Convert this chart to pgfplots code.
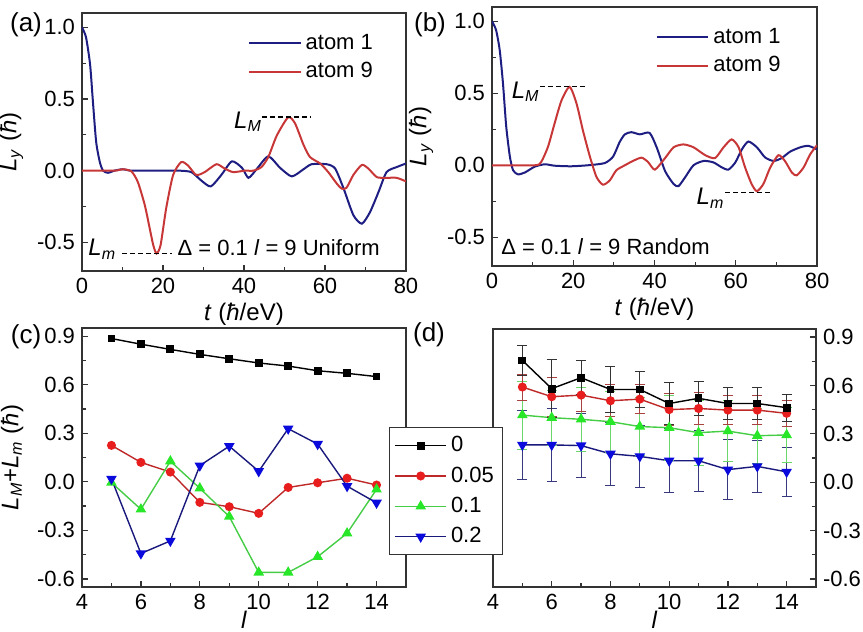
\documentclass[border=0pt]{standalone}
\usepackage{pgfplots}
\pgfplotsset{compat=1.18}
\usepackage{fontspec}
\setmainfont{Liberation Sans}
\definecolor{navyl}{RGB}{30,30,130}
\definecolor{redl}{RGB}{200,55,55}
\definecolor{redm}{RGB}{232,30,30}
\definecolor{redc}{RGB}{190,40,40}
\definecolor{greenm}{RGB}{40,230,40}
\definecolor{greenl}{RGB}{70,205,70}
\definecolor{bluem}{RGB}{10,10,220}
\definecolor{bluel}{RGB}{25,25,125}
\newcommand{\fs}[1]{\fontsize{#1}{#1}\selectfont}
\newcommand{\hb}{\textit{ħ}}
\pgfplotsset{
  base/.style={
    scale only axis, axis line style={line width=0.8pt, black!80},
    tick align=inside, tick style={black!80, line width=0.6pt},
    major tick length=3pt, minor tick length=2pt,
    ticklabel style={font=\fs{11}},
    /pgf/number format/assume math mode=true,
    label style={font=\fs{12}},
    xtick pos=bottom, ytick pos=left,
  },
  tplot/.style={base, xmin=0, xmax=80, ymin=-0.7, ymax=1.1,
    xtick={0,20,40,60,80}, minor x tick num=1,
    ytick={-0.5,0,0.5,1}, minor y tick num=1,
    yticklabel style={/pgf/number format/.cd, fixed, fixed zerofill, precision=1},
    xlabel={\textit{t} (\hb/eV)}, ylabel={\textit{L}\textsubscript{\textit{y}} (\hb)},
    xlabel style={yshift=2pt},
    legend style={draw=none, fill=none, font=\fs{11}, anchor=north east, row sep=1pt},
    legend cell align=left,
    legend image code/.code={\draw[#1] (0cm,0cm) -- (0.9cm,0cm);},
  },
  lplot/.style={base, xmin=4, xmax=15, ymin=-0.65, ymax=0.95,
    xtick={4,6,8,10,12,14}, minor x tick num=1,
    ytick={-0.6,-0.3,0,0.3,0.6,0.9}, minor y tick num=1,
    yticklabel style={/pgf/number format/.cd, fixed, fixed zerofill, precision=1},
    xlabel={\textit{l}}, xlabel style={yshift=3pt, inner sep=0pt},
  },
}
\begin{document}
\begin{tikzpicture}
\useasboundingbox (0,0) rectangle (431.5pt,316pt);
% (a)
\begin{axis}[tplot, at={(41pt,180.5pt)}, anchor=south west, width=162pt, height=129pt,
  legend style={at={(0.93,0.95)}}]
\addplot[navyl, line width=1pt, smooth, tension=0.4] coordinates {
(0,1.0) (1,0.93) (2,0.74) (2.7,0.48) (3.5,0.2) (4.4,0.06) (5.2,0.0) (6.4,-0.015) (8,0) (10,0.01) (12,0) (15,0) (20,0) (24,0) (27,-0.01) (29.5,-0.07) (31.8,-0.11) (34.4,-0.03) (37,0.065) (39.5,0.02) (41.1,-0.05) (43.1,0.01) (46,0.10) (48.9,0.02) (51.8,-0.04) (54.7,0.01) (56.7,0.045) (60.4,0.045) (62.5,0.015) (64.6,-0.125) (67,-0.31) (69.1,-0.37) (71.1,-0.29) (73.2,-0.15) (75.2,-0.01) (77.7,0.025) (80,0.05)};
\addlegendentry{atom 1}
\addplot[redl, line width=1pt, smooth, tension=0.4] coordinates {
(0,0) (8,0) (10,0.01) (12.2,-0.005) (13.8,-0.08) (15.5,-0.24) (16.7,-0.40) (17.6,-0.52) (18.4,-0.578) (19.4,-0.52) (20.8,-0.26) (22.5,-0.03) (24.5,0.06) (26.2,0.035) (28.2,-0.03) (30.3,-0.01) (33.2,0.045) (35.2,0.015) (37.3,-0.01) (40.2,0) (42.3,0) (44.3,0.025) (46,0.095) (48.1,0.245) (50.9,0.372) (52.6,0.33) (54.7,0.18) (56.3,0.095) (58.8,0.05) (60.8,-0.01) (62.9,-0.09) (64.1,-0.125) (65.3,-0.12) (67,-0.03) (69.1,0.04) (70.7,0.015) (72.8,-0.045) (75.2,-0.05) (77.7,-0.05) (80,-0.075)};
\addlegendentry{atom 9}
\draw[dashed, dash pattern=on 2.5pt off 1.5pt, line width=0.6pt] (axis cs:44.4,0.375) -- (axis cs:56.4,0.375);
\node[anchor=east, font=\fs{12}, inner sep=1pt] at (axis cs:45,0.34) {\textit{L}\textsubscript{\textit{M}}};
\draw[dashed, dash pattern=on 2.5pt off 1.5pt, line width=0.6pt] (axis cs:9.9,-0.58) -- (axis cs:22.2,-0.58);
\node[font=\fs{12}, inner sep=1pt] at (axis cs:5,-0.55) {\textit{L}\textsubscript{\textit{m}}};
\node[anchor=west, font=\fs{11}, inner sep=0pt] at (axis cs:23.5,-0.535) {Δ = 0.1 \textit{l} = 9 Uniform};
\end{axis}
% (b)
\begin{axis}[tplot, at={(246pt,183pt)}, anchor=south west, width=162.5pt, height=129.5pt,
  legend style={at={(0.92,0.95)}}]
\addplot[navyl, line width=1pt, smooth, tension=0.4] coordinates {
(0,1.0) (1,0.94) (1.9,0.80) (2.7,0.57) (3.5,0.27) (4.4,0.06) (5.2,-0.035) (6.4,-0.063) (8.1,-0.05) (10.5,-0.01) (13,0.007) (15.4,-0.003) (19.5,-0.007) (23.6,0) (27.7,0.015) (29.8,0.06) (31.4,0.16) (32.7,0.215) (34.3,0.23) (36.4,0.215) (38.8,0.225) (40.6,0.12) (42.6,-0.04) (44.7,-0.13) (45.9,-0.145) (47.5,-0.085) (49.6,0) (52.1,0.03) (54.5,0.02) (56.6,-0.015) (58.2,-0.03) (59.9,0.02) (61.5,0.11) (63.1,0.165) (65.2,0.125) (67.2,0.055) (69.3,0.03) (71.3,0.05) (73.4,0.095) (75.9,0.125) (77.9,0.135) (80,0.11)};
\addlegendentry{atom 1}
\addplot[redl, line width=1pt, smooth, tension=0.4] coordinates {
(0,0) (10.5,0) (12.1,0.023) (13.8,0.13) (15.4,0.29) (17.1,0.45) (19.1,0.545) (20.8,0.43) (22.4,0.24) (24.1,0.06) (25.7,-0.08) (27.3,-0.135) (29,-0.105) (30.6,-0.035) (32.7,0) (34.7,0.03) (36.8,0.053) (38.4,0.023) (40.1,-0.03) (42.6,0.05) (44.7,0.125) (47.1,0.145) (49.6,0.125) (52.5,0.07) (54.9,0.05) (57,0.125) (59,0.18) (60.7,0.125) (62.3,-0.015) (63.9,-0.13) (65.2,-0.18) (66.8,-0.13) (68.5,-0.015) (70.5,0.07) (72.1,0.03) (73.8,-0.05) (75,-0.07) (76.7,-0.015) (78.3,0.075) (80,0.14)};
\addlegendentry{atom 9}
\draw[dashed, dash pattern=on 2.5pt off 1.5pt, line width=0.6pt] (axis cs:11.8,0.545) -- (axis cs:23.6,0.545);
\node[anchor=east, font=\fs{12}, inner sep=1pt] at (axis cs:12.3,0.51) {\textit{L}\textsubscript{\textit{M}}};
\draw[dashed, dash pattern=on 2.5pt off 1.5pt, line width=0.6pt] (axis cs:57.4,-0.187) -- (axis cs:69.2,-0.187);
\node[anchor=east, font=\fs{12}, inner sep=1pt] at (axis cs:57.8,-0.23) {\textit{L}\textsubscript{\textit{m}}};
\node[anchor=west, font=\fs{11}, inner sep=0pt] at (axis cs:2.2,-0.565) {Δ = 0.1 \textit{l} = 9 Random};
\end{axis}
% (c)
\begin{axis}[lplot, at={(41pt,22.5pt)}, anchor=south west, width=162pt, height=129.5pt,
  ylabel={\textit{L}\textsubscript{\textit{M}}+\textit{L}\textsubscript{\textit{m}} (\hb)}]
\addplot[black, line width=0.7pt, mark=square*, mark size=1.6pt] coordinates {
(5,0.885) (6,0.85) (7,0.818) (8,0.787) (9,0.76) (10,0.734) (11,0.715) (12,0.686) (13,0.67) (14,0.65)};
\addplot[redc, line width=0.7pt, mark=*, mark size=1.9pt, mark options={fill=redm, draw=redm}] coordinates {
(5,0.225) (6,0.12) (7,0.06) (8,-0.127) (9,-0.154) (10,-0.195) (11,-0.035) (12,-0.006) (13,0.022) (14,-0.02)};
\addplot[greenl, line width=0.7pt, mark=triangle*, mark size=2.4pt, mark options={fill=greenm, draw=greenm}] coordinates {
(5,-0.005) (6,-0.17) (7,0.127) (8,-0.04) (9,-0.215) (10,-0.56) (11,-0.56) (12,-0.463) (13,-0.318) (14,-0.047)};
\addplot[bluel, line width=0.7pt, mark=triangle*, mark size=2.4pt, mark options={rotate=180, fill=bluem, draw=bluem}] coordinates {
(5,0.018) (6,-0.443) (7,-0.365) (8,0.10) (9,0.22) (10,0.065) (11,0.328) (12,0.233) (13,-0.027) (14,-0.13)};
\end{axis}
% (d)
\begin{axis}[lplot, at={(246.5pt,22.5pt)}, anchor=south west, width=161.5pt, height=129pt,
  ytick pos=right, yticklabel pos=right,
  legend style={at={(axis description cs:-0.322,0.62)}, anchor=north west, draw=black!80, fill=white, font=\fs{11}, row sep=2pt, inner sep=2.5pt},
  legend cell align=left, legend reversed,
  legend image code/.code={\draw[mark repeat=2, mark phase=2, #1] plot coordinates {(0cm,0cm) (0.45cm,0cm) (0.9cm,0cm)};}]
\addplot[bluel, line width=0.7pt, mark=triangle*, mark size=2.4pt, mark options={rotate=180, fill=bluem, draw=bluem},
  error bars/.cd, y dir=both, y explicit, error bar style={color=bluel!70!gray, line width=0.5pt},
  error mark options={rotate=90, mark size=2.5pt, color=bluel!70!gray}] coordinates {
(5,0.231) +- (0,0.215) (6,0.231) +- (0,0.229) (7,0.227) +- (0,0.2) (8,0.176) +- (0,0.196) (9,0.16) +- (0,0.19) (10,0.133) +- (0,0.198) (11,0.133) +- (0,0.188) (12,0.078) +- (0,0.185) (13,0.098) +- (0,0.163) (14,0.064) +- (0,0.154)};
\addplot[greenl, line width=0.7pt, mark=triangle*, mark size=2.4pt, mark options={fill=greenm, draw=greenm},
  error bars/.cd, y dir=both, y explicit, error bar style={color=greenl!80, line width=0.5pt},
  error mark options={rotate=90, mark size=2.5pt, color=greenl!80}] coordinates {
(5,0.416) +- (0,0.21) (6,0.40) +- (0,0.17) (7,0.39) +- (0,0.2) (8,0.375) +- (0,0.19) (9,0.345) +- (0,0.18) (10,0.338) +- (0,0.2) (11,0.307) +- (0,0.2) (12,0.317) +- (0,0.19) (13,0.288) +- (0,0.17) (14,0.293) +- (0,0.17)};
\addplot[redc, line width=0.7pt, mark=*, mark size=1.9pt, mark options={fill=redm, draw=redm},
  error bars/.cd, y dir=both, y explicit, error bar style={color=redc!70!gray, line width=0.5pt},
  error mark options={rotate=90, mark size=2.5pt, color=redc!70!gray}] coordinates {
(5,0.59) +- (0,0.08) (6,0.53) +- (0,0.12) (7,0.54) +- (0,0.1) (8,0.505) +- (0,0.1) (9,0.515) +- (0,0.09) (10,0.45) +- (0,0.1) (11,0.457) +- (0,0.1) (12,0.447) +- (0,0.09) (13,0.447) +- (0,0.09) (14,0.427) +- (0,0.08)};
\addplot[black, line width=0.7pt, mark=square*, mark size=1.6pt,
  error bars/.cd, y dir=both, y explicit, error bar style={color=black!80, line width=0.5pt},
  error mark options={rotate=90, mark size=2.5pt, color=black!80}] coordinates {
(5,0.755) +- (0,0.093) (6,0.58) +- (0,0.18) (7,0.648) +- (0,0.105) (8,0.575) +- (0,0.14) (9,0.575) +- (0,0.11) (10,0.488) +- (0,0.13) (11,0.52) +- (0,0.107) (12,0.488) +- (0,0.10) (13,0.488) +- (0,0.10) (14,0.462) +- (0,0.083)};
\legend{0.2,0.1,0.05,0}
\end{axis}
\node[font=\fs{13}] at (13pt,303.5pt) {(a)};
\node[font=\fs{13}] at (215pt,303.5pt) {(b)};
\node[font=\fs{13}] at (13pt,147.5pt) {(c)};
\node[font=\fs{13}] at (214.5pt,148.5pt) {(d)};
\end{tikzpicture}
\end{document}
